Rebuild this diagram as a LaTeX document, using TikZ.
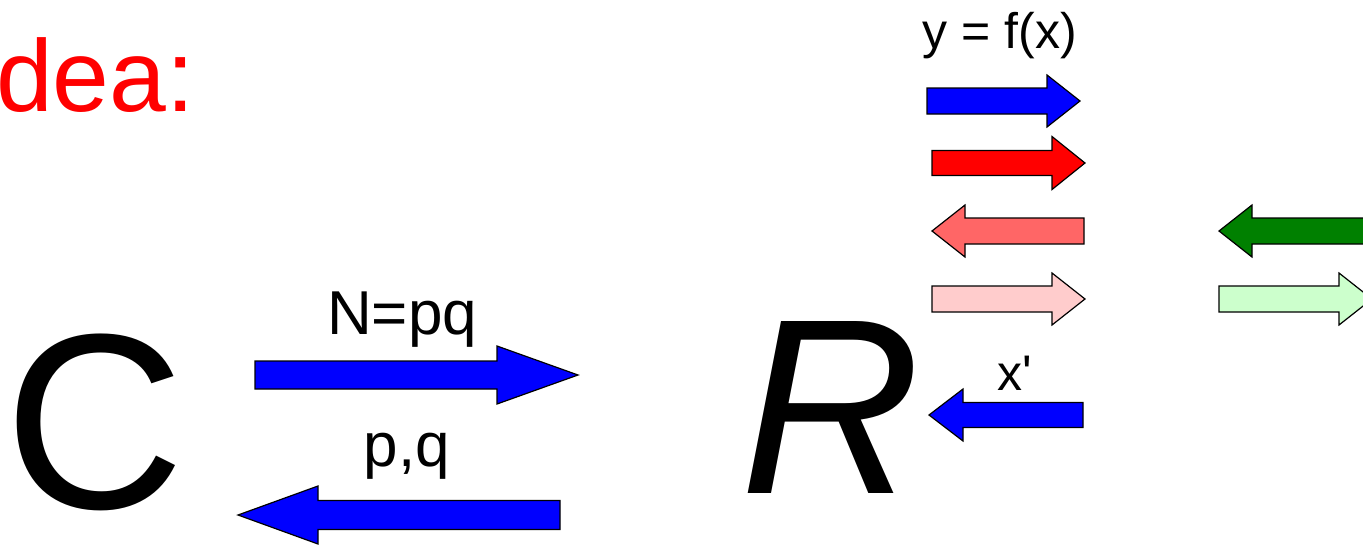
\documentclass[tikz,border=0pt]{standalone}
\usepackage{fontspec}
\setmainfont{Liberation Sans}
\definecolor{lightred}{HTML}{FF6666}
\definecolor{pinkred}{HTML}{FFCCCC}
\definecolor{darkgreen}{HTML}{008000}
\definecolor{palegreen}{HTML}{CCFFCC}
\newcommand\fatarrow[8]{%
  \filldraw[arrowbox, fill=#7] (#1,#4-#5) -- (#2,#4-#5) -- (#2,#4-#6) -- (#3,#4)
    -- (#2,#4+#6) -- (#2,#4+#5) -- (#1,#4+#5) -- cycle;
  \coordinate (#8) at (#3,#4);}
\tikzset{
  arrowbox/.style={draw=black, line width=1.2pt, line join=miter},
  lbl/.style={inner sep=0pt, anchor=base, font=\fontsize{62}{64}\selectfont},
  small/.style={inner sep=0pt, anchor=base, font=\fontsize{50}{52}\selectfont},
  big/.style={inner sep=0pt, anchor=base, font=\fontsize{250}{250}\selectfont}
}
\begin{document}
\begin{tikzpicture}[x=1pt,y=-1pt]
\useasboundingbox (0,0) rectangle (1363,544);
\clip (0,0) rectangle (1363,544);
% title
\node[inner sep=0pt, anchor=base west, text=red, font=\fontsize{102}{104}\selectfont] (title) at (-4,111) {dea:};
% big letters
\node[big] (C) at (95,508) {C};
\node[big, font=\fontsize{250}{250}\selectfont\itshape] (R) at (831,493) {R};
% C <-> R arrows
\fatarrow{255}{497}{578}{375}{14}{29}{blue}{npqtip}
\node[lbl] (npq) at (402,334) {N=pq};
\fatarrow{560}{318}{238}{515}{14.5}{29}{blue}{pqtip}
\node[lbl] (pq) at (407,466) {p,q};
% right column
\node[small] (yfx) at (1000,48) {y = f(x)};
\fatarrow{927}{1047}{1080}{101}{13}{26}{blue}{a1}
\fatarrow{932}{1052}{1085}{163}{12.5}{26.5}{red}{a2}
\fatarrow{1084}{965}{932}{231}{13}{26}{lightred}{a3}
\fatarrow{932}{1052}{1085}{299}{13}{26}{pinkred}{a4}
\node[small] (xp) at (1015,390) {x\textquotesingle};
\fatarrow{1083}{963}{929}{415}{12.5}{26}{blue}{a5}
% green arrows
\fatarrow{1400}{1252}{1219}{231}{13}{26}{darkgreen}{g1}
\fatarrow{1219}{1339}{1372}{299}{13}{26}{palegreen}{g2}
\end{tikzpicture}
\end{document}
